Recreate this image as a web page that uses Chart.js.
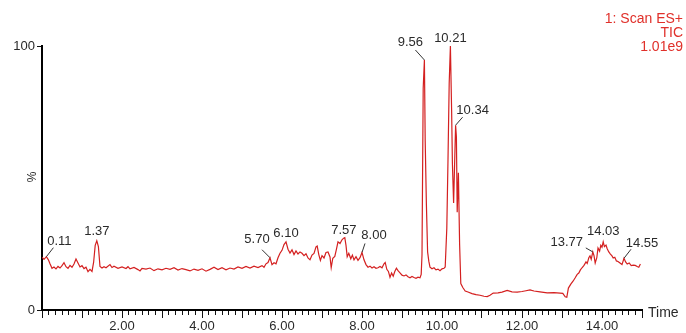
<!DOCTYPE html>
<html>
<head>
<meta charset="utf-8">
<title>TIC chromatogram</title>
<script src="https://cdn.jsdelivr.net/npm/chart.js@4.4.0/dist/chart.umd.min.js"></script>
<style>
  html, body { margin: 0; padding: 0; background: #fff; }
  #wrap { width: 686px; height: 333px; }
</style>
</head>
<body>
<div id="wrap"><canvas id="ticChart" width="686" height="333"></canvas></div>
<script>
// Chromatogram data: time (min) and relative intensity (%)
const times = [
  0.00, 0.05, 0.11, 0.16, 0.20, 0.25, 0.30, 0.35, 0.40, 0.45, 0.50, 0.55, 0.60, 0.65, 0.70, 0.75,
  0.80, 0.85, 0.90, 0.95, 1.00, 1.05, 1.10, 1.15, 1.20, 1.25, 1.29, 1.33, 1.37, 1.41, 1.45, 1.50,
  1.55, 1.60, 1.70, 1.75, 1.80, 1.90, 2.00, 2.10, 2.15, 2.20, 2.30, 2.40, 2.45, 2.50, 2.60, 2.70,
  2.80, 2.90, 3.00, 3.10, 3.20, 3.30, 3.40, 3.50, 3.60, 3.70, 3.80, 3.90, 4.00, 4.10, 4.20, 4.30,
  4.40, 4.50, 4.60, 4.70, 4.80, 4.90, 5.00, 5.10, 5.20, 5.30, 5.40, 5.50, 5.55, 5.60, 5.65, 5.70,
  5.75, 5.80, 5.85, 5.90, 5.95, 6.00, 6.05, 6.10, 6.15, 6.20, 6.25, 6.30, 6.35, 6.40, 6.45, 6.50,
  6.55, 6.60, 6.65, 6.70, 6.75, 6.80, 6.85, 6.88, 6.92, 6.96, 7.00, 7.05, 7.10, 7.15, 7.20, 7.23,
  7.27, 7.32, 7.36, 7.40, 7.45, 7.50, 7.54, 7.57, 7.60, 7.63, 7.67, 7.72, 7.76, 7.80, 7.85, 7.90,
  7.95, 8.00, 8.05, 8.10, 8.15, 8.20, 8.25, 8.30, 8.35, 8.40, 8.45, 8.50, 8.55, 8.58, 8.62, 8.66,
  8.70, 8.74, 8.78, 8.82, 8.86, 8.90, 8.95, 9.00, 9.05, 9.10, 9.15, 9.20, 9.25, 9.30, 9.35, 9.40,
  9.45, 9.48, 9.50, 9.53, 9.56, 9.58, 9.61, 9.64, 9.67, 9.70, 9.75, 9.80, 9.85, 9.90, 9.95, 10.00,
  10.05, 10.08, 10.12, 10.15, 10.18, 10.21, 10.24, 10.26, 10.29, 10.34, 10.36, 10.38, 10.41, 10.44, 10.47, 10.52,
  10.58, 10.65, 10.75, 10.85, 10.95, 11.05, 11.13, 11.20, 11.28, 11.40, 11.50, 11.63, 11.75, 11.88, 12.00, 12.10,
  12.20, 12.30, 12.45, 12.63, 12.80, 12.95, 13.02, 13.08, 13.12, 13.16, 13.22, 13.28, 13.33, 13.38, 13.42, 13.46,
  13.50, 13.55, 13.60, 13.63, 13.67, 13.70, 13.73, 13.77, 13.80, 13.83, 13.87, 13.90, 13.94, 13.97, 14.00, 14.03,
  14.06, 14.10, 14.13, 14.17, 14.21, 14.25, 14.28, 14.32, 14.36, 14.40, 14.45, 14.50, 14.55, 14.59, 14.63, 14.68,
  14.73, 14.78, 14.83, 14.88, 14.92, 14.96
];
const intensities = [
  20.0, 19.2, 20.2, 19.0, 17.5, 15.8, 16.3, 15.6, 16.5, 15.9, 16.8, 17.9, 16.4, 15.8, 16.9, 16.2,
  17.4, 19.3, 17.8, 16.3, 16.8, 15.7, 16.2, 14.5, 15.4, 14.6, 18.0, 24.5, 26.2, 24.0, 16.5, 15.9,
  16.4, 16.0, 17.2, 16.1, 16.6, 15.8, 16.3, 15.7, 16.4, 15.6, 16.1, 15.3, 14.8, 15.8, 15.5, 15.9,
  14.9, 15.6, 15.2, 15.8, 15.4, 16.0, 15.1, 15.7, 15.3, 14.8, 15.5, 15.0, 15.6, 14.7, 15.4, 16.2,
  15.3, 16.0, 15.2, 15.9, 15.5, 16.3, 15.8, 16.5, 15.9, 16.6, 16.1, 16.8, 16.2, 17.5, 18.0, 19.8,
  17.2, 17.9, 17.5, 19.8, 21.5, 22.6, 24.8, 25.8, 23.0, 21.6, 22.8, 21.0, 22.4, 21.2, 22.0, 21.5,
  20.6, 21.3, 19.7, 19.0, 20.8, 21.4, 23.9, 24.2, 21.0, 18.8, 20.6, 19.7, 21.8, 22.0, 20.1, 16.0,
  19.6, 20.3, 23.0, 25.8, 25.2, 26.6, 27.2, 27.4, 24.5, 20.2, 21.5, 19.4, 20.8, 19.0, 20.2, 18.8,
  19.8, 21.8, 19.0, 17.2, 16.2, 16.6, 15.9, 16.4, 15.8, 16.0, 16.5, 16.0, 17.5, 18.0, 15.4, 14.6,
  12.4, 14.0, 12.8, 14.6, 15.8, 14.9, 14.1, 13.2, 12.9, 13.3, 12.6, 12.2, 12.7, 12.3, 12.0, 12.4,
  12.2, 13.5, 20.8, 84.0, 94.7, 64.0, 40.0, 22.0, 18.5, 16.2, 15.6, 16.0, 15.2, 15.5, 14.9, 15.6,
  15.8, 16.3, 31.0, 57.0, 86.0, 100.0, 76.0, 55.6, 40.5, 70.0, 65.6, 37.0, 52.0, 25.0, 10.0, 8.5,
  7.2, 6.8, 6.2, 5.8, 5.6, 5.2, 5.1, 5.6, 6.4, 6.5, 6.8, 7.4, 6.9, 6.8, 7.0, 7.3,
  7.6, 7.2, 6.9, 6.5, 6.6, 6.4, 6.3, 5.0, 4.8, 8.3, 9.8, 11.0, 12.2, 13.5, 14.0, 15.2,
  16.0, 16.9, 18.2, 17.6, 19.8, 20.5, 19.2, 22.0, 20.6, 17.8, 19.8, 23.5, 22.3, 24.5, 23.8, 25.8,
  24.0, 24.6, 23.2, 22.0, 21.2, 20.5, 19.7, 20.0, 18.6, 18.4, 17.8, 17.2, 19.6, 18.2, 17.4, 17.8,
  16.8, 17.0, 16.9, 16.5, 16.2, 17.4
];

// Labelled peaks (retention times)
const peakTimes = [0.11, 1.37, 5.70, 6.10, 7.57, 8.00, 9.56, 10.21, 10.34, 13.77, 14.03, 14.55];
const peakLabels = ['0.11', '1.37', '5.70', '6.10', '7.57', '8.00', '9.56', '10.21', '10.34', '13.77', '14.03', '14.55'];

// Axis labels
const xTickLabels = ['2.00', '4.00', '6.00', '8.00', '10.00', '12.00', '14.00'];
const yTickLabels = ['0', '100'];
const headerLines = ['1: Scan ES+', 'TIC', '1.01e9'];

// Label placement (px, relative to apex): text centre and leader end
const labelStyle = [
  { dx: 13, dy: -15, lx: 7, ly: -9 },
  { dx: 0, dy: -9 },
  { dx: -13, dy: -18, lx: -8, ly: -8 },
  { dx: 0, dy: -8 },
  { dx: -1, dy: -7 },
  { dx: 12, dy: -17, lx: 3, ly: -9 },
  { dx: -14, dy: -18, lx: -9, ly: -10 },
  { dx: 0, dy: -8 },
  { dx: 17, dy: -15, lx: 7, ly: -8 },
  { dx: -26, dy: -9, lx: -7, ly: -4 },
  { dx: 0, dy: -10 },
  { dx: 18, dy: -15, lx: 7, ly: -9 }
];

const FONT = "'Liberation Sans', Arial, sans-serif";
const TEXT = '#2a2a2a';
const RED = '#d42020';

// tick positions: minor every 10 s, major every minute
const minorTicks = [];
for (let i = 0; i <= 90; i++) minorTicks.push(i / 6);
const majorTicks = [];
for (let i = 0; i <= 15; i++) majorTicks.push(i);

// Annotations drawn on top of the trace
const annotations = {
  id: 'annotations',
  afterDatasetsDraw(chart) {
    const ctx = chart.ctx;
    const xs = chart.scales.x, ys = chart.scales.y;
    ctx.save();
    ctx.font = '13px ' + FONT;
    ctx.fillStyle = TEXT;
    ctx.strokeStyle = '#333';
    ctx.lineWidth = 1;
    ctx.textAlign = 'center';
    ctx.textBaseline = 'middle';
    peakTimes.forEach((t, i) => {
      const idx = times.findIndex(v => Math.abs(v - t) < 1e-6);
      const px = xs.getPixelForValue(t);
      const py = ys.getPixelForValue(intensities[idx]);
      const s = labelStyle[i];
      if (s.lx !== undefined) {
        ctx.beginPath();
        ctx.moveTo(px, py);
        ctx.lineTo(px + s.lx, py + s.ly);
        ctx.stroke();
      }
      ctx.fillText(peakLabels[i], px + s.dx, py + s.dy);
    });

    // header in the top right corner
    ctx.fillStyle = '#e0302a';
    ctx.textAlign = 'right';
    ctx.font = '14px ' + FONT;
    headerLines.forEach((line, i) => {
      ctx.fillText(line, 683, 19 + i * 14);
    });

    // axis titles
    ctx.fillStyle = TEXT;
    ctx.textAlign = 'left';
    ctx.font = '14px ' + FONT;
    ctx.fillText('Time', 648, 313);
    ctx.translate(33, 177);
    ctx.rotate(-Math.PI / 2);
    ctx.textAlign = 'center';
    ctx.font = '12px ' + FONT;
    ctx.fillText('%', 0, 0);
    ctx.restore();
  }
};

new Chart(document.getElementById('ticChart'), {
  type: 'line',
  data: {
    datasets: [{
      data: times.map((t, i) => ({ x: t, y: intensities[i] })),
      borderColor: RED,
      borderWidth: 1.2,
      pointRadius: 0,
      tension: 0,
      fill: false
    }]
  },
  options: {
    responsive: false,
    animation: false,
    devicePixelRatio: 1,
    layout: { padding: { top: 46, right: 44, left: 0, bottom: 0 } },
    plugins: { legend: { display: false }, tooltip: { enabled: false } },
    scales: {
      x: {
        type: 'linear',
        min: 0,
        max: 15,
        weight: 1,
        afterBuildTicks: (scale) => { scale.ticks = minorTicks.map(v => ({ value: v })); },
        afterFit: (scale) => { scale.height = 23; },
        grid: { drawOnChartArea: false, drawTicks: true, tickLength: 5, color: '#111', lineWidth: 1 },
        border: { display: true, color: '#000', width: 2 },
        ticks: {
          autoSkip: false,
          maxRotation: 0,
          padding: 4,
          color: TEXT,
          font: { family: FONT, size: 13 },
          callback: (v) => {
            const lbl = xTickLabels.find(l => Math.abs(parseFloat(l) - v) < 1e-6);
            return lbl || '';
          }
        }
      },
      x2: {
        type: 'linear',
        position: 'bottom',
        min: 0,
        max: 15,
        weight: 0,
        afterBuildTicks: (scale) => { scale.ticks = majorTicks.map(v => ({ value: v })); },
        afterFit: (scale) => { scale.height = 0; },
        grid: { drawOnChartArea: false, drawTicks: true, tickLength: 8, color: '#111', lineWidth: 1 },
        border: { display: false },
        ticks: { display: false }
      },
      y: {
        min: 0,
        max: 100,
        afterBuildTicks: (scale) => { scale.ticks = yTickLabels.map(l => ({ value: parseFloat(l) })); },
        afterFit: (scale) => { scale.width = 42; },
        grid: { drawOnChartArea: false, drawTicks: true, tickLength: 5, color: '#111' },
        border: { display: true, color: '#000', width: 2 },
        ticks: {
          padding: 2,
          color: TEXT,
          font: { family: FONT, size: 13 },
          callback: (v) => String(v)
        }
      }
    }
  },
  plugins: [annotations]
});
</script>
</body>
</html>
